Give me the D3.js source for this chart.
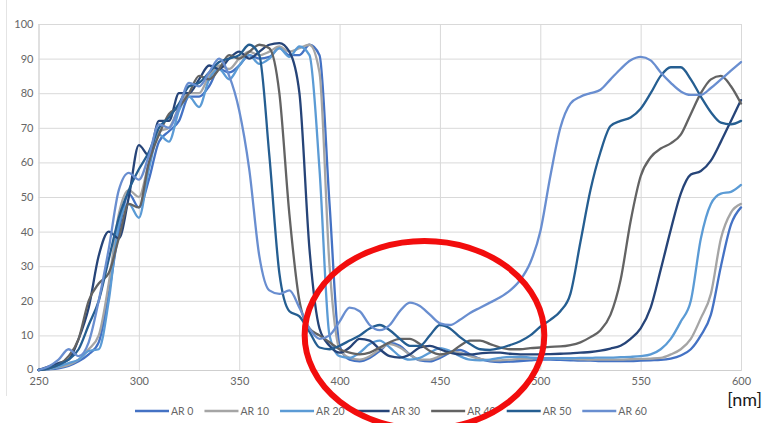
<!DOCTYPE html>
<html>
<head>
<meta charset="utf-8">
<script src="https://cdn.jsdelivr.net/npm/d3@7"></script>
<style>
  body { margin: 0; background: #fff; }
  text { font-family: Lato, "Open Sans", sans-serif; }
</style>
</head>
<body>
<svg id="chart" width="763" height="423"></svg>
<script>
// Wavelength grid (nm) shared by all spectra
const wavelengths = [
  250,255,260,265,270,275,280,285,290,295,
  300,305,310,315,320,325,330,335,340,345,
  350,355,360,365,370,375,380,385,390,395,
  400,405,410,415,420,425,430,435,440,445,
  450,455,460,465,470,475,480,485,490,495,
  500,505,510,515,520,525,530,535,540,545,
  550,555,560,565,570,575,580,585,590,595,
  600
];

const seriesNames = ["AR 0", "AR 10", "AR 20", "AR 30", "AR 40", "AR 50", "AR 60"];

const ar0 = [
  0,0.2,0.5,1.2,2.5,4.5,8,22,40,51,
  47,55,66,69,72,79,79,82,87,86,
  88,91,90,90.5,93,91,91,94,91,48,
  7,3,2.5,3.5,5.5,7.8,7,4.5,2.8,2.5,
  3.5,5,5.8,4.5,3.2,2.5,2.3,2.4,2.6,2.8,
  3,3,2.9,2.8,2.7,2.7,2.6,2.6,2.6,2.6,
  2.7,2.8,2.9,3.3,4.2,6,10,16,30,42,
  47
];
const ar10 = [
  0,0.3,0.8,1.5,3,6,10,25,45,52,
  50,60,69,70,76,80,80,85,88,87,
  90,92,91,92,93.5,92,93,94,86,30,
  6,3.5,3,4,6,7.5,6.5,4.5,3,3,
  4,5.3,5,4,3.2,2.8,2.8,3,3.2,3.3,
  3.4,3.4,3.3,3.2,3.1,3,3,3,3,3.1,
  3.2,3.3,3.5,4.5,6,9,15,22,38,45.5,
  48
];
const ar20 = [
  0,0.3,1,2,3,5.5,6,20,42,48,
  44,58,68,66,75,79,76,84,87,84,
  88,91,88.5,90,93,90.5,93.5,91,58,10,
  4,3.5,5,7.5,8.5,6.5,4,3,3.5,5,
  6.3,5.5,4,3,2.8,3,3.5,3.8,3.8,3.6,
  3.5,3.4,3.4,3.4,3.5,3.5,3.6,3.6,3.7,3.8,
  4,4.5,6,9,14,20,38,48,51,51.5,
  53.5
];
const ar30 = [
  0,1,2,3,9,18,33,40,38,50,
  65,62,72,72,80,80,84,88,87,90,
  92,90,92,94,94.5,92,80,35,12,7,
  5,6.5,9,8.5,6,4,3.6,4.5,6.5,7,
  6,5,4.5,4.5,4.8,5,5,4.7,4.5,4.5,
  4.5,4.6,4.7,4.8,5,5.2,5.6,6.2,7,9,
  12,18,29,40.5,51,56.5,57.5,60.5,66,72,
  78
];
const ar40 = [
  0,0.5,1.5,4,9,20,25,28,38,48,
  47,60,68,74,76,80,85,84,87,91,
  90,92,94,93,80,45,20,12,10,8,
  6,5,4.5,5,6.5,8,9,9,7.5,5.5,
  4.5,5,7,8.5,8.5,7.5,6.5,6,6,6.3,
  6.5,6.7,6.8,7.2,8,9.5,11.5,16,26,43,
  56,61.5,64,65.5,68,74,80,84,85,82,
  77
];
const ar50 = [
  0,0.5,1.5,3,6,13,20,32,44,52,
  58,63,70,73,77,82,83,86,89,90,
  91,94,91,62,28,17,15.5,11,6.5,6,
  7,8.5,10,12,13,11.5,9,7,7,10,
  13,12,9.5,7.5,6,5.8,6.3,7.2,8.3,10,
  12.5,14.5,17,22,37,52,63,70.5,72,73,
  75.5,80,85,87.5,87.5,84,79,74.5,71.5,71,
  72
];
const ar60 = [
  0,1,3,6,4,8,20,35,52,57,
  55,62,71,70,76,83,82,86,90,85,
  75,58,33,23,22,23,18,12,9,10,
  14,18,17,13,11.5,13,17,19.5,18.5,16,
  13.5,13,14.5,16.5,18,19.5,21,23,26,31,
  40,56,70,77,79,80,81,84,87,89.5,
  90.5,89.5,86,83,80.5,79.5,79.5,81.5,84,86.5,
  89
];

const seriesValues = [ar0, ar10, ar20, ar30, ar40, ar50, ar60];
const seriesColors = ["#4472C4", "#A5A5A5", "#5B9BD5", "#264478", "#636363", "#255E91", "#698ED0"];

const xTicks = [250, 300, 350, 400, 450, 500, 550, 600];
const yTicks = [0, 10, 20, 30, 40, 50, 60, 70, 80, 90, 100];

const svg = d3.select("#chart");
svg.append("rect").attr("width", 763).attr("height", 423).attr("fill", "#fff");

const plot = { left: 38.5, right: 741, top: 24, bottom: 370 };
const x = d3.scaleLinear().domain([250, 600]).range([plot.left, plot.right]);
const y = d3.scaleLinear().domain([0, 100]).range([plot.bottom, plot.top]);

// outer frame edge on the left
svg.append("line")
  .attr("x1", 6.5).attr("x2", 6.5).attr("y1", 0).attr("y2", 396)
  .attr("stroke", "#e4e4e4").attr("stroke-width", 1);

// horizontal gridlines + y labels
const yAxis = svg.append("g")
  .attr("transform", `translate(${plot.left},0)`)
  .call(d3.axisLeft(y).tickValues(yTicks).tickSize(-(plot.right - plot.left)).tickPadding(5));
yAxis.select(".domain").remove();
yAxis.selectAll(".tick line").attr("stroke", "#d9d9d9").attr("stroke-width", 1);
yAxis.selectAll(".tick text")
  .attr("fill", "#666").style("font-size", "11px")
  .style("font-family", "Lato, sans-serif");
// the zero label sits just above the corner so it clears the first x label
yAxis.selectAll(".tick text").filter(d => d === 0).attr("dy", "0.2em");

// vertical gridlines + x labels
const xAxis = svg.append("g")
  .attr("transform", `translate(0,${plot.bottom})`)
  .call(d3.axisBottom(x).tickValues(xTicks).tickSize(-(plot.bottom - plot.top)).tickPadding(7));
xAxis.select(".domain").attr("stroke", "#cfcfcf");
xAxis.selectAll(".tick line").attr("stroke", "#d9d9d9").attr("stroke-width", 1);
xAxis.selectAll(".tick text")
  .attr("fill", "#666").style("font-size", "11px")
  .style("font-family", "Lato, sans-serif");

// spectra
const line = d3.line()
  .x((d, i) => x(wavelengths[i]))
  .y(d => y(d))
  .curve(d3.curveMonotoneX);

svg.append("g")
  .selectAll("path")
  .data(seriesValues)
  .join("path")
  .attr("d", d => line(d))
  .attr("fill", "none")
  .attr("stroke", (d, i) => seriesColors[i])
  .attr("stroke-width", 2.3)
  .attr("stroke-linejoin", "round")
  .attr("stroke-linecap", "round");

// legend
const legend = svg.append("g").attr("transform", "translate(135,411)");
let cursor = 0;
seriesNames.forEach((name, i) => {
  const g = legend.append("g").attr("transform", `translate(${cursor},0)`);
  g.append("line").attr("x1", 0).attr("x2", 34).attr("y1", 0).attr("y2", 0)
    .attr("stroke", seriesColors[i]).attr("stroke-width", 2.5);
  const t = g.append("text").attr("x", 36).attr("y", 4)
    .attr("fill", "#666").style("font-size", "10.5px").text(name);
  cursor += 36 + t.node().getComputedTextLength() + 11;
});

// unit label
svg.append("text")
  .attr("x", 762).attr("y", 406)
  .attr("text-anchor", "end")
  .attr("fill", "#1a1a1a")
  .style("font-size", "18px")
  .text("[nm]");

// highlight ring around the low-transmission ripple band
svg.append("ellipse")
  .attr("cx", x(442.3)).attr("cy", y(10.1))
  .attr("rx", x(502) - x(442.3))
  .attr("ry", y(0) - y(27.2))
  .attr("fill", "none")
  .attr("stroke", "#f20d0d")
  .attr("stroke-width", 6);
</script>
</body>
</html>
